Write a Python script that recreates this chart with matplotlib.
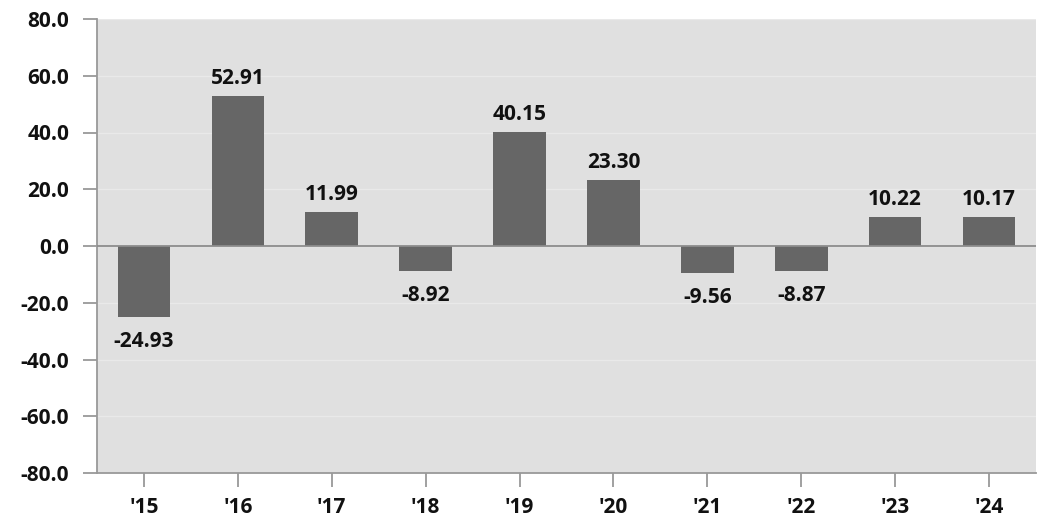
import matplotlib.pyplot as plt

# data
years = ["'15", "'16", "'17", "'18", "'19", "'20", "'21", "'22", "'23", "'24"]
returns = [-24.93, 52.91, 11.99, -8.92, 40.15, 23.30, -9.56, -8.87, 10.22, 10.17]
yticks = [-80, -60, -40, -20, 0, 20, 40, 60, 80]

plt.rcParams['font.family'] = ['Open Sans', 'DejaVu Sans']
plt.rcParams['font.weight'] = 'bold'

fig = plt.figure(figsize=(10.56, 5.32), dpi=100)
ax = fig.add_axes([97/1056, 1 - 473/532, (1036-97)/1056, (473-19)/532])
ax.set_facecolor('#e0e0e0')

x = list(range(len(years)))
ax.bar(x, returns, width=0.56, color='#666666', zorder=3)

# grid and zero line
for t in yticks:
    ax.axhline(t, color='#e9e9e9', lw=1, zorder=1)
ax.axhline(0, color='#8c8c8c', lw=1.3, zorder=4)

# value labels
for xi, v in zip(x, returns):
    if v >= 0:
        ax.text(xi, v + 2.5, f'{v:.2f}', ha='center', va='bottom', fontsize=15, fontweight='bold', color='#111111')
    else:
        ax.text(xi, v - 5, f'{v:.2f}', ha='center', va='top', fontsize=15, fontweight='bold', color='#111111')

ax.set_xlim(-0.5, 9.5)
ax.set_ylim(-80, 80)
ax.set_yticks(yticks)
ax.set_yticklabels([f'{t:.1f}' for t in yticks], fontsize=15, fontweight='bold')
ax.set_xticks(x)
ax.set_xticklabels(years, fontsize=15, fontweight='bold')

for s in ['top', 'right']:
    ax.spines[s].set_visible(False)
for s in ['left', 'bottom']:
    ax.spines[s].set_color('#999999')
    ax.spines[s].set_linewidth(1.3)
ax.tick_params(axis='both', color='#999999', length=10, width=1.3, colors='#111111')
ax.tick_params(axis='y', pad=10)
ax.tick_params(axis='x', pad=7)
for tl in ax.yaxis.get_ticklines() + ax.xaxis.get_ticklines():
    tl.set_color('#999999')

fig.savefig('out.png', dpi=100)
